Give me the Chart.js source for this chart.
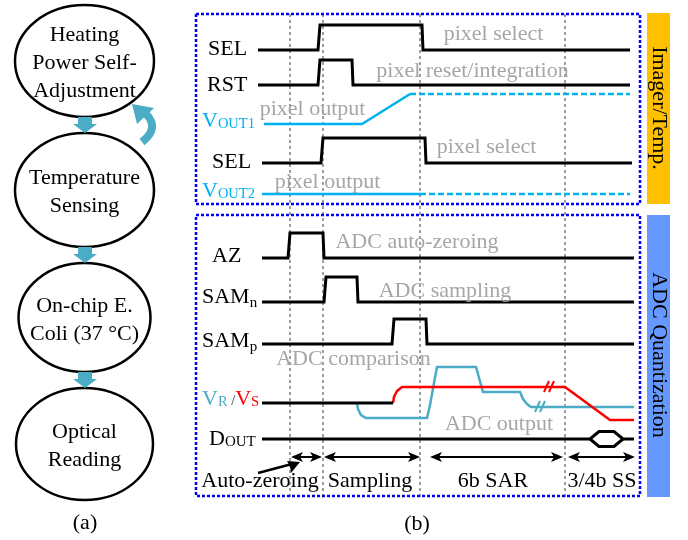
<!DOCTYPE html>
<html>
<head>
<meta charset="utf-8">
<script src="https://cdn.jsdelivr.net/npm/chart.js@4"></script>
<style>
  html, body { margin: 0; padding: 0; background: #fff; }
  #wrap { width: 688px; height: 540px; position: relative; }
</style>
</head>
<body>
<div id="wrap"><canvas id="chart"></canvas></div>
<script>
// ---- data (time axis in diagram units, levels relative to each row baseline) ----
const flowSteps = [["Heating", "Power Self-", "Adjustment"], ["Temperature", "Sensing"], ["On-chip E.", "Coli (37 °C)"], ["Optical", "Reading"]];

const phaseMarks = [290, 323, 420, 565];
const phaseNames = ["Auto-zeroing", "Sampling", "6b SAR", "3/4b SS"];
const phaseSpans = [[291, 322], [324, 420], [430, 563], [568, 635]];

// logic waveforms: [time, level] (level 1 = high)
const wfSel1 = [[258, 0], [318, 0], [320, 1], [422, 1], [423, 0], [630, 0]];
const wfRst = [[258, 0], [318, 0], [320, 1], [352, 1], [353, 0], [630, 0]];
const wfSel2 = [[262, 0], [321, 0], [323, 1], [425, 1], [426, 0], [632, 0]];
const wfAz = [[262, 0], [288, 0], [290, 1], [323, 1], [324, 0], [634, 0]];
const wfSamN = [[262, 0], [324, 0], [326, 1], [357, 1], [358, 0], [634, 0]];
const wfSamP = [[262, 0], [392, 0], [394, 1], [426, 1], [427, 0], [634, 0]];
const wfDoutTop = [[262, 0], [590, 0], [599, 1], [614, 1], [623, 0], [634, 0]];
const wfDoutBot = [[590, 0], [599, -1], [614, -1], [623, 0]];

// analog waveforms: [time, value]
const wfVout1 = [[264, 0], [362, 0], [410, 30]];
const wfVout1Hold = [[410, 30], [630, 30]];
const wfVout2 = [[262, 0], [420, 0]];
const wfVout2Hold = [[420, 0], [630, 0]];
const wfVcm = [[262, 0], [393, 0]];
const wfVs = [[393, 0], [394, 6], [397, 12], [402, 16], [565, 16], [610, -17], [634, -17]];
const wfVr = [[357, 0], [358, -6], [361, -12], [366, -15], [427, -15], [430, -2], [434, 20], [437, 36], [476, 36], [483, 11], [520, 11], [523, 4], [527, -1], [531, -4], [634, -4]];
const breakVs = [544, 549];
const breakVr = [535, 540];

// ---- layout ----
const rowBase = { sel1: 50, rst: 85, vout1: 124, sel2: 163, vout2: 194, az: 258, samn: 302, samp: 344, vrvs: 403, dout: 439 };
const logicAmp = 25;
const FONT = '"Liberation Serif", "Times New Roman", serif';
const GRAY = "#A6A6A6";
const CYAN = "#00B0F0";
const TEAL = "#4BACC6";

function wave(wf, base, amp) {
  return wf.map(([t, v]) => ({ x: t, y: base - v * amp }));
}
function line(data, color, width, dash) {
  return { data, showLine: true, borderColor: color, borderWidth: width, borderDash: dash || [], pointRadius: 0, fill: false, tension: 0 };
}
function slashes(ts, base, dy) {
  return ts.map(t => line([{ x: t, y: base + dy + 5 }, { x: t + 5, y: base + dy - 6 }], dy > 0 ? TEAL : "#FF0000", 2));
}

const datasets = [
  line(wave(wfSel1, rowBase.sel1, logicAmp), "#000", 3),
  line(wave(wfRst, rowBase.rst, logicAmp), "#000", 3),
  line(wave(wfSel2, rowBase.sel2, logicAmp), "#000", 3),
  line(wave(wfAz, rowBase.az, logicAmp), "#000", 3),
  line(wave(wfSamN, rowBase.samn, logicAmp), "#000", 3),
  line(wave(wfSamP, rowBase.samp, logicAmp), "#000", 3),
  line(wave(wfDoutTop, rowBase.dout, 7.5), "#000", 3),
  line(wave(wfDoutBot, rowBase.dout, 7.5), "#000", 3),
  line(wave(wfVout1, rowBase.vout1, 1), CYAN, 2.5),
  line(wave(wfVout1Hold, rowBase.vout1, 1), CYAN, 2.5, [6, 3]),
  line(wave(wfVout2, rowBase.vout2, 1), CYAN, 2.5),
  line(wave(wfVout2Hold, rowBase.vout2, 1), CYAN, 2.5, [6, 3]),
  line(wave(wfVcm, rowBase.vrvs, 1), "#000", 3),
  line(wave(wfVs, rowBase.vrvs, 1), "#FF0000", 2.5),
  line(wave(wfVr, rowBase.vrvs, 1), TEAL, 2.5),
  ...slashes(breakVs, rowBase.vrvs, -16),
  ...slashes(breakVr, rowBase.vrvs, 4),
  ...phaseSpans.map(([a, b]) => line([{ x: a + 8, y: 457 }, { x: b - 8, y: 457 }], "#000", 2)),
  line([{ x: 258, y: 473 }, { x: 292, y: 464 }], "#000", 2.5),
  line([{ x: 196, y: 14 }, { x: 640, y: 14 }, { x: 640, y: 204 }, { x: 196, y: 204 }, { x: 196, y: 14 }], "#0000FF", 2.5, [3, 2]),
  line([{ x: 196, y: 215 }, { x: 640, y: 215 }, { x: 640, y: 496 }, { x: 196, y: 496 }, { x: 196, y: 215 }], "#0000FF", 2.5, [3, 2]),
  ...phaseMarks.map(t => line([{ x: t, y: 14 }, { x: t, y: 498 }], "#7F7F7F", 1.5, [3, 3]))
];

// ---- custom drawing through the chart scales ----
const diagram = {
  id: "diagram",
  beforeDatasetsDraw(chart) {
    const { ctx } = chart;
    const X = v => chart.scales.x.getPixelForValue(v);
    const Y = v => chart.scales.y.getPixelForValue(v);
    ctx.save();
    // side bars
    ctx.fillStyle = "#FFC000";
    ctx.fillRect(X(647), Y(13), X(670) - X(647), Y(204) - Y(13));
    ctx.fillStyle = "#6699FF";
    ctx.fillRect(X(647), Y(215), X(670) - X(647), Y(497) - Y(215));
    ctx.fillStyle = "#000";
    ctx.font = "22px " + FONT;
    ctx.textAlign = "center";
    ctx.textBaseline = "middle";
    [["Imager/Temp.", 108], ["ADC Quantization", 355]].forEach(([s, cy]) => {
      ctx.save();
      ctx.translate(X(659), Y(cy));
      ctx.rotate(Math.PI / 2);
      ctx.fillText(s, 0, 0);
      ctx.restore();
    });

    // flowchart (a)
    const ell = [[61, 69.5, 56], [190, 69.5, 57], [317.5, 66, 54.5], [444, 68.5, 56]];
    ctx.lineWidth = 2.5;
    ctx.strokeStyle = "#000";
    ell.forEach(([cy, rx, ry], i) => {
      ctx.beginPath();
      ctx.ellipse(X(84.5), Y(cy), rx, ry, 0, 0, Math.PI * 2);
      ctx.stroke();
      ctx.textBaseline = "alphabetic";
      const lines = flowSteps[i];
      lines.forEach((s, j) => {
        ctx.fillText(s, X(84.5), Y(cy + 8 + (j - (lines.length - 1) / 2) * 28));
      });
    });
    ctx.fillStyle = TEAL;
    [[117, 133], [247, 263], [372, 388]].forEach(([a, b]) => {
      ctx.beginPath();
      ctx.moveTo(X(78), Y(a));
      ctx.lineTo(X(92), Y(a));
      ctx.lineTo(X(92), Y(a + 7));
      ctx.lineTo(X(97), Y(a + 7));
      ctx.lineTo(X(85), Y(b));
      ctx.lineTo(X(73), Y(a + 7));
      ctx.lineTo(X(78), Y(a + 7));
      ctx.closePath();
      ctx.fill();
    });
    // curved feedback arrow
    ctx.strokeStyle = TEAL;
    ctx.lineWidth = 8;
    ctx.beginPath();
    ctx.moveTo(X(142), Y(142));
    ctx.quadraticCurveTo(X(160), Y(128), X(146), Y(114));
    ctx.stroke();
    ctx.beginPath();
    ctx.moveTo(X(132), Y(104));
    ctx.lineTo(X(154), Y(108));
    ctx.lineTo(X(137), Y(124));
    ctx.closePath();
    ctx.fill();
    ctx.restore();
  },
  afterDatasetsDraw(chart) {
    const { ctx } = chart;
    const X = v => chart.scales.x.getPixelForValue(v);
    const Y = v => chart.scales.y.getPixelForValue(v);
    ctx.save();
    ctx.textBaseline = "alphabetic";

    // arrow heads
    const head = (tx, ty, dir) => {
      ctx.beginPath();
      ctx.moveTo(X(tx), Y(ty));
      ctx.lineTo(X(tx + dir * 12), Y(ty - 5));
      ctx.lineTo(X(tx + dir * 9), Y(ty));
      ctx.lineTo(X(tx + dir * 12), Y(ty + 5));
      ctx.closePath();
      ctx.fill();
    };
    ctx.fillStyle = "#000";
    phaseSpans.forEach(([a, b]) => { head(a, 457, 1); head(b, 457, -1); });
    ctx.beginPath();
    ctx.moveTo(X(300), Y(462));
    ctx.lineTo(X(287), Y(461));
    ctx.lineTo(X(290), Y(466.5));
    ctx.lineTo(X(291), Y(473));
    ctx.closePath();
    ctx.fill();

    // gray annotations
    ctx.font = "22px " + FONT;
    ctx.textAlign = "center";
    ctx.fillStyle = GRAY;
    [["pixel select", 493.5, 40], ["pixel reset/integration", 472.5, 77], ["pixel output", 312.5, 115],
     ["pixel select", 486.5, 153], ["pixel output", 327.5, 188], ["ADC auto-zeroing", 417, 248],
     ["ADC sampling", 445, 297], ["ADC comparison", 353.5, 365], ["ADC output", 499, 430]]
      .forEach(([s, x, y]) => ctx.fillText(s, X(x), Y(y)));

    // phase labels
    ctx.fillStyle = "#000";
    const phaseX = [260, 370, 493, 602];
    phaseNames.forEach((s, i) => ctx.fillText(s, X(phaseX[i]), Y(487)));
    ctx.fillText("(a)", X(85), Y(529));
    ctx.fillText("(b)", X(417), Y(530));

    // signal labels built from parts [text, size, color, dy]
    ctx.textAlign = "left";
    const labels = [
      [208, 55, [["SEL", 22, "#000", 0]]],
      [207, 91, [["RST", 22, "#000", 0]]],
      [202, 127, [["V", 22, CYAN, 0], ["OUT1", 14.5, CYAN, 1]]],
      [212, 168, [["SEL", 22, "#000", 0]]],
      [202, 197, [["V", 22, CYAN, 0], ["OUT2", 14.5, CYAN, 1]]],
      [212, 262, [["AZ", 22, "#000", 0]]],
      [202, 303, [["SAM", 22, "#000", 0], ["n", 15, "#000", 4]]],
      [202, 347, [["SAM", 22, "#000", 0], ["p", 15, "#000", 4]]],
      [202, 405, [["V", 22, TEAL, 0], ["R", 14.5, TEAL, 1], [" /", 14.5, "#333", 0], ["V", 22, "#FF0000", 0], ["S", 14.5, "#FF0000", 1]]],
      [209, 445, [["D", 22, "#000", 0], ["OUT", 15, "#000", 1]]]
    ];
    labels.forEach(([x0, y0, parts]) => {
      let x = X(x0);
      parts.forEach(([s, size, color, dy]) => {
        ctx.font = size + "px " + FONT;
        ctx.fillStyle = color;
        ctx.fillText(s, x, Y(y0 + dy));
        x += ctx.measureText(s).width;
      });
    });
    ctx.restore();
  }
};

new Chart(document.getElementById("chart"), {
  type: "scatter",
  data: { datasets },
  options: {
    responsive: true,
    maintainAspectRatio: false,
    animation: false,
    events: [],
    layout: { padding: 0 },
    plugins: { legend: { display: false }, tooltip: { enabled: false } },
    scales: {
      x: { type: "linear", min: 0, max: 688, display: false },
      y: { type: "linear", min: 0, max: 540, reverse: true, display: false }
    }
  },
  plugins: [diagram]
});
</script>
</body>
</html>
